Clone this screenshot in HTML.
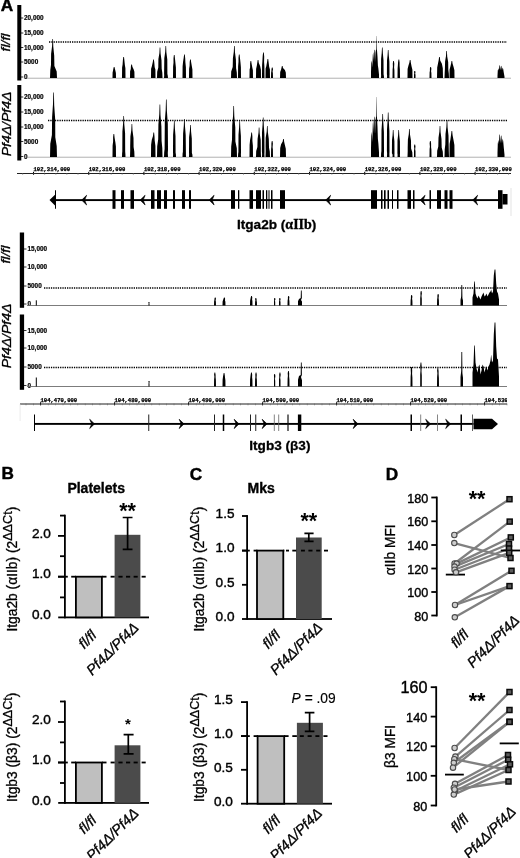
<!DOCTYPE html>
<html lang="en"><head><meta charset="utf-8"><title>Figure</title>
<style>html,body{margin:0;padding:0;background:#fff}body{width:520px;height:858px;overflow:hidden}svg{display:block}text{font-family:"Liberation Sans", Arial, Helvetica, sans-serif;fill:#000}.mono{font-family:"Liberation Mono", monospace;font-weight:bold;font-size:5.55px;stroke:#000;stroke-width:0.25px}.tk{font-size:6.4px;font-weight:bold;stroke:#000;stroke-width:0.2px}.ax{font-size:13.6px;stroke:#000;stroke-width:0.4px}.lab{font-size:13.8px;stroke:#000;stroke-width:0.3px}.it{font-style:italic;font-size:14.5px;stroke:#000;stroke-width:0.3px}.b{font-weight:bold}.pl{font-size:17.2px;stroke:#000;stroke-width:0.45px}.ti{font-size:14px;stroke:#000;stroke-width:0.35px}.gl{font-size:13.6px;stroke:#000;stroke-width:0.3px}.rl{font-size:14px;stroke:#000;stroke-width:0.35px}</style></head><body>
<svg width="520" height="858" viewBox="0 0 520 858">
<rect width="520" height="858" fill="#fff"/>
<defs><clipPath id="cl"><rect x="0" y="390" width="507" height="20"/></clipPath></defs>
<g id="panelA">
<text x="0.8" y="11" class="b pl">A</text>
<rect x="17.3" y="5" width="4" height="75.5" fill="#000"/>
<rect x="17.3" y="85" width="4" height="75.5" fill="#000"/>
<text class="it rl" transform="translate(10.2 42.5) rotate(-90) scale(1 0.86)" text-anchor="middle">fl/fl</text>
<text class="it rl" transform="translate(10.6 124) rotate(-90) scale(1 0.86)" text-anchor="middle">Pf4Δ/Pf4Δ</text>
<text class="tk" x="24" y="20.3">20,000</text>
<rect x="20.8" y="17.6" width="2.5" height="0.8" fill="#000"/>
<text class="tk" x="24" y="35.3">15,000</text>
<rect x="20.8" y="32.6" width="2.5" height="0.8" fill="#000"/>
<text class="tk" x="24" y="49.8">10,000</text>
<rect x="20.8" y="47.1" width="2.5" height="0.8" fill="#000"/>
<text class="tk" x="24" y="64.3">5000</text>
<rect x="20.8" y="61.6" width="2.5" height="0.8" fill="#000"/>
<text class="tk" x="24" y="79.3">0</text>
<rect x="20.8" y="76.6" width="2.5" height="0.8" fill="#000"/>
<text class="tk" x="24" y="99.3">20,000</text>
<rect x="20.8" y="96.6" width="2.5" height="0.8" fill="#000"/>
<text class="tk" x="24" y="114.3">15,000</text>
<rect x="20.8" y="111.6" width="2.5" height="0.8" fill="#000"/>
<text class="tk" x="24" y="129.3">10,000</text>
<rect x="20.8" y="126.6" width="2.5" height="0.8" fill="#000"/>
<text class="tk" x="24" y="143.8">5000</text>
<rect x="20.8" y="141.1" width="2.5" height="0.8" fill="#000"/>
<text class="tk" x="24" y="158.8">0</text>
<rect x="20.8" y="156.1" width="2.5" height="0.8" fill="#000"/>
<rect x="27" y="77.8" width="484" height="0.7" fill="#909090"/>
<rect x="27" y="156.8" width="484" height="0.7" fill="#909090"/>
<line x1="49" y1="42" x2="507" y2="42" stroke="#000" stroke-width="1.5" stroke-dasharray="1.3 1.0"/>
<line x1="48" y1="120.5" x2="507" y2="120.5" stroke="#000" stroke-width="1.5" stroke-dasharray="1.3 1.0"/>
<path d="M50.0 78.0 L50.3 70.0 L51.0 64.7 L51.1 53.8 L52.1 46.0 L52.4 39.0 L53.0 39.0 L53.3 46.8 L54.2 55.4 L54.4 66.1 L56.7 71.4 L57.0 78.0Z M112.5 78.0 L112.6 72.5 L113.1 70.3 L113.4 68.5 L113.8 67.0 L114.5 67.0 L114.9 68.8 L115.4 70.7 L115.9 72.9 L116.0 78.0Z M122.0 78.0 L122.1 67.5 L122.6 64.5 L122.9 59.9 L123.3 57.0 L124.0 57.0 L124.4 60.4 L124.9 65.3 L125.4 68.3 L125.5 78.0Z M130.0 78.0 L130.1 71.2 L130.8 69.1 L130.9 66.4 L131.3 64.5 L132.0 64.5 L132.4 66.7 L133.7 69.6 L134.4 71.8 L134.5 78.0Z M151.0 78.0 L151.1 68.8 L151.8 66.5 L152.8 62.1 L153.2 59.5 L153.9 59.5 L154.3 62.5 L154.7 67.3 L155.4 69.5 L155.5 78.0Z M157.0 78.0 L157.2 71.8 L158.3 67.6 L158.4 59.1 L159.4 53.0 L159.7 47.5 L160.3 47.5 L160.6 53.6 L161.5 60.3 L161.7 68.7 L162.3 72.8 L162.5 78.0Z M164.0 78.0 L164.2 75.3 L164.1 73.5 L164.3 58.2 L165.2 51.8 L165.5 46.0 L166.1 46.0 L166.4 52.4 L167.3 59.4 L167.4 74.0 L167.8 75.8 L168.0 78.0Z M173.0 78.0 L173.1 66.5 L173.5 62.8 L173.5 58.2 L173.9 55.0 L174.6 55.0 L175.0 58.7 L175.5 63.8 L175.9 67.4 L176.0 78.0Z M182.5 78.0 L182.6 66.2 L183.1 61.5 L183.7 57.8 L184.1 54.5 L184.8 54.5 L185.2 58.3 L185.4 62.4 L185.9 67.2 L186.0 78.0Z M189.0 78.0 L189.1 68.8 L189.6 65.7 L189.7 62.1 L190.1 59.5 L190.8 59.5 L191.2 62.5 L191.9 66.4 L192.4 69.5 L192.5 78.0Z M231.0 78.0 L231.2 71.5 L232.7 67.1 L232.9 58.2 L233.8 51.8 L234.1 46.0 L234.7 46.0 L235.0 52.4 L235.9 59.4 L236.1 68.2 L236.8 72.6 L237.0 78.0Z M238.0 78.0 L238.1 66.2 L238.5 61.7 L238.5 57.8 L238.9 54.5 L239.6 54.5 L240.0 58.3 L240.5 62.7 L240.9 67.2 L241.0 78.0Z M249.5 78.0 L249.6 69.5 L250.1 67.4 L250.1 63.4 L250.5 61.0 L251.2 61.0 L251.6 63.7 L252.4 68.0 L252.9 70.2 L253.0 78.0Z M256.0 78.0 L256.1 69.0 L256.9 65.2 L257.3 62.5 L257.7 60.0 L258.4 60.0 L258.8 62.9 L260.1 65.9 L260.9 69.7 L261.0 78.0Z M262.0 78.0 L262.1 65.2 L262.4 61.1 L262.7 56.1 L263.1 52.5 L263.8 52.5 L264.2 56.6 L264.1 62.1 L264.4 66.3 L264.5 78.0Z M265.5 78.0 L265.6 68.5 L266.3 66.2 L267.1 61.7 L267.5 59.0 L268.2 59.0 L268.6 62.0 L269.2 67.0 L269.9 69.3 L270.0 78.0Z M271.0 78.0 L271.1 72.8 L271.4 71.1 L271.5 69.0 L271.9 67.5 L272.6 67.5 L273.0 69.2 L272.6 71.5 L272.9 73.2 L273.0 78.0Z M280.0 78.0 L280.2 72.0 L281.1 69.6 L281.5 67.7 L281.9 66.0 L282.6 66.0 L283.0 67.9 L284.9 70.1 L285.8 72.5 L286.0 78.0Z M381.0 78.0 L381.1 75.4 L381.0 73.7 L381.1 59.1 L381.7 53.0 L382.0 47.5 L382.6 47.5 L382.9 53.6 L383.5 60.3 L383.6 74.2 L383.9 75.9 L384.0 78.0Z M387.0 78.0 L387.1 75.6 L386.9 74.1 L387.0 60.6 L387.6 55.0 L387.9 50.0 L388.5 50.0 L388.8 55.6 L389.4 61.8 L389.5 74.5 L389.4 76.0 L389.5 78.0Z M392.5 78.0 L392.6 69.5 L392.9 66.8 L392.8 63.4 L393.2 61.0 L393.9 61.0 L394.3 63.7 L394.1 67.4 L394.4 70.2 L394.5 78.0Z M397.5 78.0 L397.6 68.8 L397.9 65.1 L398.1 62.1 L398.5 59.5 L399.2 59.5 L399.6 62.5 L399.6 65.8 L399.9 69.5 L400.0 78.0Z M407.5 78.0 L407.6 69.0 L408.4 65.7 L409.4 62.5 L409.8 60.0 L410.5 60.0 L410.9 62.9 L411.6 66.4 L412.4 69.7 L412.5 78.0Z M414.0 78.0 L414.0 74.5 L414.3 73.4 L414.0 72.0 L414.4 71.0 L415.1 71.0 L415.5 72.1 L415.2 73.7 L415.5 74.8 L415.5 78.0Z M429.5 78.0 L429.6 72.5 L429.9 70.7 L429.9 68.5 L430.3 67.0 L431.0 67.0 L431.4 68.8 L431.1 71.2 L431.4 72.9 L431.5 78.0Z M437.0 78.0 L437.2 67.5 L438.1 62.9 L438.7 59.9 L439.1 57.0 L439.8 57.0 L440.2 60.4 L441.9 63.8 L442.8 68.3 L443.0 78.0Z M444.5 78.0 L444.7 72.5 L444.9 68.8 L445.1 61.3 L446.0 55.9 L446.3 51.0 L446.9 51.0 L447.2 56.4 L448.2 62.3 L448.3 69.7 L448.8 73.4 L449.0 78.0Z M449.5 78.0 L449.6 69.5 L450.4 66.4 L451.1 63.4 L451.5 61.0 L452.2 61.0 L452.6 63.7 L453.6 67.0 L454.4 70.2 L454.5 78.0Z M371.0 78.0 L371.0 71.7 L371.3 63.3 L371.9 60.4 L372.3 67.5 L372.8 54.9 L373.2 52.0 L373.7 61.2 L374.1 50.3 L374.6 49.4 L375.0 62.0 L375.5 52.8 L375.9 50.3 L376.3 49.4 L376.5 36.0 L376.7 36.0 L377.0 50.3 L377.5 57.0 L377.9 65.4 L378.4 68.8 L379.0 74.6 L379.0 78.0Z M497.5 78.0 L497.5 75.4 L497.8 70.2 L498.4 68.2 L498.9 70.8 L499.4 65.7 L499.9 65.0 L500.4 70.2 L500.9 66.3 L501.4 65.7 L502.0 70.2 L502.6 67.6 L503.2 68.9 L503.8 72.8 L504.5 76.7 L504.5 78.0Z" fill="#000"/>
<path d="M50.0 157.0 L50.3 143.8 L51.9 135.1 L52.1 117.0 L53.0 104.1 L53.3 92.5 L53.9 92.5 L54.2 105.4 L55.2 119.6 L55.3 137.3 L56.7 146.0 L57.0 157.0Z M112.5 157.0 L112.6 145.5 L113.1 141.5 L113.1 137.2 L113.5 134.0 L114.2 134.0 L114.6 137.7 L115.4 142.5 L115.9 146.4 L116.0 157.0Z M122.0 157.0 L122.1 153.6 L122.3 151.3 L122.4 131.6 L123.1 123.4 L123.4 116.0 L124.0 116.0 L124.3 124.2 L125.1 133.2 L125.2 151.8 L125.4 154.1 L125.5 157.0Z M130.0 157.0 L130.2 150.3 L130.2 145.8 L130.4 136.5 L131.3 129.9 L131.6 124.0 L132.2 124.0 L132.5 130.6 L133.5 137.9 L133.6 146.9 L134.3 151.4 L134.5 157.0Z M151.0 157.0 L151.1 144.8 L151.8 139.7 L153.0 135.9 L153.4 132.5 L154.1 132.5 L154.5 136.4 L154.7 140.6 L155.4 145.7 L155.5 157.0Z M157.0 157.0 L157.2 146.3 L158.2 139.2 L158.4 124.5 L159.3 114.0 L159.6 104.5 L160.2 104.5 L160.5 115.0 L161.4 126.5 L161.6 140.9 L162.3 148.1 L162.5 157.0Z M164.0 157.0 L164.2 152.2 L164.6 148.9 L164.8 121.3 L165.7 109.8 L166.0 99.5 L166.6 99.5 L166.9 111.0 L167.8 123.7 L168.0 149.8 L167.8 153.0 L168.0 157.0Z M173.0 157.0 L173.1 154.0 L173.0 152.0 L173.1 134.7 L173.7 127.5 L174.0 121.0 L174.6 121.0 L174.9 128.2 L175.5 136.1 L175.6 152.5 L175.9 154.5 L176.0 157.0Z M182.5 157.0 L182.6 153.8 L182.9 151.7 L183.1 133.4 L183.8 125.8 L184.1 119.0 L184.7 119.0 L185.0 126.6 L185.7 135.0 L185.9 152.2 L185.9 154.3 L186.0 157.0Z M189.0 157.0 L189.1 154.3 L189.0 152.5 L189.1 137.2 L189.9 130.8 L190.2 125.0 L190.8 125.0 L191.1 131.4 L191.8 138.4 L191.9 153.0 L192.4 154.8 L192.5 157.0Z M231.0 157.0 L231.2 146.6 L232.0 139.7 L232.2 125.4 L233.1 115.2 L233.4 106.0 L234.0 106.0 L234.3 116.2 L235.3 127.4 L235.4 141.4 L236.8 148.3 L237.0 157.0Z M238.0 157.0 L238.1 154.0 L238.4 152.0 L238.5 134.7 L239.1 127.5 L239.4 121.0 L240.0 121.0 L240.3 128.2 L240.9 136.1 L241.0 152.5 L240.9 154.5 L241.0 157.0Z M249.5 157.0 L249.6 144.8 L250.1 139.7 L250.9 135.9 L251.3 132.5 L252.0 132.5 L252.4 136.4 L252.4 140.7 L252.9 145.7 L253.0 157.0Z M256.0 157.0 L256.2 151.0 L257.4 147.0 L257.6 138.7 L258.5 132.8 L258.8 127.5 L259.4 127.5 L259.7 133.4 L260.7 139.9 L260.8 148.0 L260.8 152.0 L261.0 157.0Z M262.0 157.0 L262.1 153.7 L261.9 151.5 L262.0 132.5 L262.6 124.6 L262.9 117.5 L263.5 117.5 L263.8 125.4 L264.4 134.1 L264.5 152.0 L264.4 154.2 L264.5 157.0Z M265.5 157.0 L265.7 150.7 L265.6 146.5 L265.7 137.8 L266.7 131.6 L267.0 126.0 L267.6 126.0 L267.9 132.2 L268.8 139.0 L269.0 147.5 L269.8 151.7 L270.0 157.0Z M271.0 157.0 L271.1 149.0 L271.4 146.7 L271.4 143.2 L271.8 141.0 L272.5 141.0 L272.9 143.6 L272.6 147.3 L272.9 149.6 L273.0 157.0Z M280.0 157.0 L280.2 148.0 L281.1 144.2 L282.7 141.5 L283.1 139.0 L283.8 139.0 L284.2 141.9 L284.9 144.9 L285.8 148.7 L286.0 157.0Z M381.0 157.0 L381.1 153.4 L381.4 151.0 L381.5 130.3 L382.1 121.7 L382.4 114.0 L383.0 114.0 L383.3 122.6 L383.9 132.1 L384.0 151.6 L383.9 154.0 L384.0 157.0Z M387.0 157.0 L387.1 153.3 L386.9 150.8 L387.0 129.4 L387.6 120.5 L387.9 112.5 L388.5 112.5 L388.8 121.4 L389.4 131.2 L389.5 151.4 L389.4 153.9 L389.5 157.0Z M392.5 157.0 L392.6 154.7 L391.9 153.2 L392.0 140.3 L392.6 134.9 L392.9 130.0 L393.5 130.0 L393.8 135.4 L394.4 141.3 L394.5 153.6 L394.4 155.1 L394.5 157.0Z M397.5 157.0 L397.6 154.7 L397.4 153.2 L397.5 140.3 L398.1 134.9 L398.4 130.0 L399.0 130.0 L399.3 135.4 L399.9 141.3 L400.0 153.6 L399.9 155.1 L400.0 157.0Z M407.5 157.0 L407.7 151.3 L407.7 147.5 L407.9 139.6 L408.8 134.0 L409.1 129.0 L409.7 129.0 L410.0 134.6 L411.0 140.8 L411.1 148.4 L412.3 152.2 L412.5 157.0Z M414.0 157.0 L414.0 150.8 L414.3 148.7 L414.0 146.2 L414.4 144.5 L415.1 144.5 L415.5 146.5 L415.2 149.2 L415.5 151.2 L415.5 157.0Z M429.5 157.0 L429.6 149.0 L429.9 146.7 L429.6 143.2 L430.0 141.0 L430.7 141.0 L431.1 143.6 L431.1 147.3 L431.4 149.6 L431.5 157.0Z M437.0 157.0 L437.2 150.7 L438.3 146.5 L438.5 137.8 L439.4 131.6 L439.7 126.0 L440.3 126.0 L440.6 132.2 L441.5 139.0 L441.7 147.5 L442.8 151.7 L443.0 157.0Z M444.5 157.0 L444.7 149.5 L445.3 144.4 L445.5 134.1 L446.4 126.7 L446.7 120.0 L447.3 120.0 L447.6 127.4 L448.5 135.5 L448.7 145.7 L448.8 150.7 L449.0 157.0Z M449.5 157.0 L449.6 144.0 L450.4 139.4 L451.1 134.6 L451.5 131.0 L452.2 131.0 L452.6 135.2 L453.6 140.5 L454.4 145.0 L454.5 157.0Z M371.0 157.0 L371.0 148.0 L371.3 136.0 L371.9 131.8 L372.3 142.0 L372.8 124.0 L373.2 119.8 L373.7 133.0 L374.1 117.4 L374.6 116.2 L375.0 134.2 L375.5 121.0 L375.9 117.4 L376.3 116.2 L376.5 97.0 L376.7 97.0 L377.0 117.4 L377.5 127.0 L377.9 139.0 L378.4 143.8 L379.0 152.2 L379.0 157.0Z M497.5 157.0 L497.5 152.4 L497.8 143.2 L498.4 139.8 L498.9 144.3 L499.4 135.2 L499.9 134.0 L500.4 143.2 L500.9 136.3 L501.4 135.2 L502.0 143.2 L502.6 138.6 L503.2 140.9 L503.8 147.8 L504.5 154.7 L504.5 157.0Z" fill="#000"/>
<rect x="17" y="173" width="494" height="1" fill="#222"/>
<rect x="33.0" y="171.8" width="1" height="3" fill="#000"/>
<text class="mono" x="33.5" y="171">102,314,000</text>
<rect x="88.2" y="171.8" width="1" height="3" fill="#000"/>
<text class="mono" x="88.7" y="171">102,316,000</text>
<rect x="143.4" y="171.8" width="1" height="3" fill="#000"/>
<text class="mono" x="143.9" y="171">102,318,000</text>
<rect x="198.6" y="171.8" width="1" height="3" fill="#000"/>
<text class="mono" x="199.1" y="171">102,320,000</text>
<rect x="253.8" y="171.8" width="1" height="3" fill="#000"/>
<text class="mono" x="254.3" y="171">102,322,000</text>
<rect x="309.0" y="171.8" width="1" height="3" fill="#000"/>
<text class="mono" x="309.5" y="171">102,324,000</text>
<rect x="364.2" y="171.8" width="1" height="3" fill="#000"/>
<text class="mono" x="364.7" y="171">102,326,000</text>
<rect x="419.4" y="171.8" width="1" height="3" fill="#000"/>
<text class="mono" x="419.9" y="171">102,328,000</text>
<rect x="474.6" y="171.8" width="1" height="3" fill="#000"/>
<text class="mono" x="475.1" y="171">102,330,000</text>
<rect x="22.5" y="173" width="0.6" height="1.8" fill="#666"/>
<rect x="33.5" y="173" width="0.6" height="1.8" fill="#666"/>
<rect x="44.5" y="173" width="0.6" height="1.8" fill="#666"/>
<rect x="55.6" y="173" width="0.6" height="1.8" fill="#666"/>
<rect x="66.6" y="173" width="0.6" height="1.8" fill="#666"/>
<rect x="77.7" y="173" width="0.6" height="1.8" fill="#666"/>
<rect x="88.7" y="173" width="0.6" height="1.8" fill="#666"/>
<rect x="99.7" y="173" width="0.6" height="1.8" fill="#666"/>
<rect x="110.8" y="173" width="0.6" height="1.8" fill="#666"/>
<rect x="121.8" y="173" width="0.6" height="1.8" fill="#666"/>
<rect x="132.9" y="173" width="0.6" height="1.8" fill="#666"/>
<rect x="143.9" y="173" width="0.6" height="1.8" fill="#666"/>
<rect x="154.9" y="173" width="0.6" height="1.8" fill="#666"/>
<rect x="166.0" y="173" width="0.6" height="1.8" fill="#666"/>
<rect x="177.0" y="173" width="0.6" height="1.8" fill="#666"/>
<rect x="188.1" y="173" width="0.6" height="1.8" fill="#666"/>
<rect x="199.1" y="173" width="0.6" height="1.8" fill="#666"/>
<rect x="210.1" y="173" width="0.6" height="1.8" fill="#666"/>
<rect x="221.2" y="173" width="0.6" height="1.8" fill="#666"/>
<rect x="232.2" y="173" width="0.6" height="1.8" fill="#666"/>
<rect x="243.3" y="173" width="0.6" height="1.8" fill="#666"/>
<rect x="254.3" y="173" width="0.6" height="1.8" fill="#666"/>
<rect x="265.3" y="173" width="0.6" height="1.8" fill="#666"/>
<rect x="276.4" y="173" width="0.6" height="1.8" fill="#666"/>
<rect x="287.4" y="173" width="0.6" height="1.8" fill="#666"/>
<rect x="298.5" y="173" width="0.6" height="1.8" fill="#666"/>
<rect x="309.5" y="173" width="0.6" height="1.8" fill="#666"/>
<rect x="320.5" y="173" width="0.6" height="1.8" fill="#666"/>
<rect x="331.6" y="173" width="0.6" height="1.8" fill="#666"/>
<rect x="342.6" y="173" width="0.6" height="1.8" fill="#666"/>
<rect x="353.7" y="173" width="0.6" height="1.8" fill="#666"/>
<rect x="364.7" y="173" width="0.6" height="1.8" fill="#666"/>
<rect x="375.7" y="173" width="0.6" height="1.8" fill="#666"/>
<rect x="386.8" y="173" width="0.6" height="1.8" fill="#666"/>
<rect x="397.8" y="173" width="0.6" height="1.8" fill="#666"/>
<rect x="408.9" y="173" width="0.6" height="1.8" fill="#666"/>
<rect x="419.9" y="173" width="0.6" height="1.8" fill="#666"/>
<rect x="430.9" y="173" width="0.6" height="1.8" fill="#666"/>
<rect x="442.0" y="173" width="0.6" height="1.8" fill="#666"/>
<rect x="453.0" y="173" width="0.6" height="1.8" fill="#666"/>
<rect x="464.1" y="173" width="0.6" height="1.8" fill="#666"/>
<rect x="475.1" y="173" width="0.6" height="1.8" fill="#666"/>
<rect x="486.1" y="173" width="0.6" height="1.8" fill="#666"/>
<rect x="497.2" y="173" width="0.6" height="1.8" fill="#666"/>
<rect x="508.2" y="173" width="0.6" height="1.8" fill="#666"/>
<rect x="52" y="199.15" width="448" height="1.9" fill="#000"/>
<path d="M49.5 200.1 L55 194.8 L55 190.2 L56 190.2 L56 208.8 L55 208.8 L55 205.4Z" fill="#000"/>
<rect x="112.5" y="190.2" width="3.0" height="18.6" fill="#000"/>
<rect x="121.0" y="190.2" width="3.0" height="18.6" fill="#000"/>
<rect x="130.5" y="190.2" width="3.5" height="18.6" fill="#000"/>
<rect x="151.0" y="190.2" width="3.5" height="18.6" fill="#000"/>
<rect x="157.0" y="190.2" width="4.0" height="18.6" fill="#000"/>
<rect x="164.0" y="190.2" width="3.0" height="18.6" fill="#000"/>
<rect x="173.0" y="190.2" width="2.0" height="18.6" fill="#000"/>
<rect x="182.0" y="190.2" width="3.0" height="18.6" fill="#000"/>
<rect x="189.0" y="190.2" width="2.0" height="18.6" fill="#000"/>
<rect x="231.0" y="190.2" width="4.0" height="18.6" fill="#000"/>
<rect x="238.0" y="190.2" width="1.3" height="18.6" fill="#000"/>
<rect x="249.5" y="190.2" width="3.5" height="18.6" fill="#000"/>
<rect x="256.0" y="190.2" width="5.0" height="18.6" fill="#000"/>
<rect x="262.5" y="190.2" width="1.5" height="18.6" fill="#000"/>
<rect x="266.0" y="190.2" width="1.3" height="18.6" fill="#000"/>
<rect x="268.5" y="190.2" width="1.0" height="18.6" fill="#000"/>
<rect x="271.0" y="190.2" width="1.5" height="18.6" fill="#000"/>
<rect x="280.0" y="190.2" width="5.0" height="18.6" fill="#000"/>
<rect x="371.0" y="190.2" width="6.0" height="18.6" fill="#000"/>
<rect x="381.0" y="190.2" width="1.5" height="18.6" fill="#000"/>
<rect x="384.0" y="190.2" width="1.6" height="18.6" fill="#000"/>
<rect x="387.5" y="190.2" width="1.5" height="18.6" fill="#000"/>
<rect x="392.0" y="190.2" width="1.0" height="18.6" fill="#000"/>
<rect x="397.0" y="190.2" width="1.5" height="18.6" fill="#000"/>
<rect x="407.5" y="190.2" width="3.5" height="18.6" fill="#000"/>
<rect x="413.0" y="190.2" width="1.5" height="18.6" fill="#000"/>
<rect x="429.5" y="190.2" width="1.5" height="18.6" fill="#000"/>
<rect x="437.0" y="190.2" width="4.0" height="18.6" fill="#000"/>
<rect x="444.5" y="190.2" width="3.0" height="18.6" fill="#000"/>
<rect x="449.5" y="190.2" width="3.0" height="18.6" fill="#000"/>
<rect x="498.0" y="190.2" width="4.5" height="18.6" fill="#000"/>
<rect x="502.5" y="194" width="5" height="10.5" fill="#000"/>
<path d="M81.7 200.1 L86.6 195.3 L84.6 200.1 L86.6 204.9Z" fill="#000" stroke="#000" stroke-width="0.7" stroke-linejoin="miter"/>
<path d="M140.2 200.1 L145.1 195.3 L143.1 200.1 L145.1 204.9Z" fill="#000" stroke="#000" stroke-width="0.7" stroke-linejoin="miter"/>
<path d="M209.2 200.1 L214.1 195.3 L212.1 200.1 L214.1 204.9Z" fill="#000" stroke="#000" stroke-width="0.7" stroke-linejoin="miter"/>
<path d="M325.7 200.1 L330.6 195.3 L328.6 200.1 L330.6 204.9Z" fill="#000" stroke="#000" stroke-width="0.7" stroke-linejoin="miter"/>
<path d="M420.2 200.1 L425.1 195.3 L423.1 200.1 L425.1 204.9Z" fill="#000" stroke="#000" stroke-width="0.7" stroke-linejoin="miter"/>
<path d="M472.7 200.1 L477.6 195.3 L475.6 200.1 L477.6 204.9Z" fill="#000" stroke="#000" stroke-width="0.7" stroke-linejoin="miter"/>
<rect x="510.7" y="188" width="0.6" height="28" fill="#d0d0d0"/>
<text x="237" y="229.4" class="b gl">Itga2b (<tspan font-family='&quot;Liberation Serif&quot;, serif' font-size="14">αIIb</tspan>)</text>
<rect x="19.8" y="232.5" width="4.3" height="75.3" fill="#000"/>
<rect x="19.8" y="314.5" width="4.3" height="75.3" fill="#000"/>
<text class="it rl" transform="translate(10.2 254.6) rotate(-90) scale(1 0.86)" text-anchor="middle">fl/fl</text>
<text class="it rl" transform="translate(10.6 336) rotate(-90) scale(1 0.86)" text-anchor="middle">Pf4Δ/Pf4Δ</text>
<text class="tk" x="27.5" y="251.3">15,000</text>
<rect x="24" y="248.6" width="2.5" height="0.8" fill="#000"/>
<text class="tk" x="27.5" y="269.3">10,000</text>
<rect x="24" y="266.6" width="2.5" height="0.8" fill="#000"/>
<text class="tk" x="27.5" y="288.3">5000</text>
<rect x="24" y="285.6" width="2.5" height="0.8" fill="#000"/>
<text class="tk" x="27.5" y="306.3">0</text>
<rect x="24" y="303.6" width="2.5" height="0.8" fill="#000"/>
<text class="tk" x="27.5" y="332.8">15,000</text>
<rect x="24" y="330.1" width="2.5" height="0.8" fill="#000"/>
<text class="tk" x="27.5" y="350.3">10,000</text>
<rect x="24" y="347.6" width="2.5" height="0.8" fill="#000"/>
<text class="tk" x="27.5" y="369.3">5000</text>
<rect x="24" y="366.6" width="2.5" height="0.8" fill="#000"/>
<text class="tk" x="27.5" y="387.8">0</text>
<rect x="24" y="385.1" width="2.5" height="0.8" fill="#000"/>
<rect x="27" y="305.0" width="480" height="0.9" fill="#6e6e6e"/>
<rect x="27" y="386.1" width="480" height="0.9" fill="#6e6e6e"/>
<rect x="35.8" y="300.3" width="1" height="5.2" fill="#000"/>
<rect x="35.8" y="377.5" width="1" height="9" fill="#000"/>
<line x1="44" y1="288" x2="507" y2="288" stroke="#000" stroke-width="1.5" stroke-dasharray="1.3 1.0"/>
<line x1="44" y1="367.5" x2="507" y2="367.5" stroke="#000" stroke-width="1.5" stroke-dasharray="1.3 1.0"/>
<path d="M148.5 305.5 L148.5 303.8 L148.7 303.0 L148.2 302.5 L148.6 302.0 L149.3 302.0 L149.7 302.6 L149.3 303.1 L149.5 303.9 L149.5 305.5Z M214.0 305.5 L214.1 301.5 L214.4 299.9 L214.5 298.6 L214.9 297.5 L215.6 297.5 L216.0 298.8 L215.6 300.2 L215.9 301.8 L216.0 305.5Z M222.5 305.5 L222.6 301.5 L223.0 300.2 L223.6 298.6 L224.0 297.5 L224.7 297.5 L225.1 298.8 L225.0 300.5 L225.4 301.8 L225.5 305.5Z M250.0 305.5 L250.1 300.8 L250.4 299.2 L250.8 297.3 L251.2 296.0 L251.9 296.0 L252.3 297.5 L252.1 299.6 L252.4 301.1 L252.5 305.5Z M255.0 305.5 L255.1 301.8 L255.4 300.4 L255.1 299.1 L255.5 298.0 L256.2 298.0 L256.6 299.2 L256.6 300.7 L256.9 302.1 L257.0 305.5Z M274.0 305.5 L274.0 301.8 L274.2 300.2 L274.0 299.1 L274.4 298.0 L275.1 298.0 L275.5 299.2 L275.0 300.5 L275.2 302.1 L275.2 305.5Z M279.0 305.5 L279.0 301.8 L279.3 300.4 L279.1 299.1 L279.5 298.0 L280.2 298.0 L280.6 299.2 L280.2 300.7 L280.5 302.1 L280.5 305.5Z M287.5 305.5 L287.6 300.8 L287.9 298.7 L287.9 297.3 L288.3 296.0 L289.0 296.0 L289.4 297.5 L289.1 299.1 L289.4 301.1 L289.5 305.5Z M298.0 305.5 L298.0 301.3 L299.0 299.0 L300.7 298.0 L300.9 290.5 L301.7 290.5 L301.9 298.0 L301.0 300.0 L302.0 301.6 L302.0 305.5Z M410.5 305.5 L410.6 300.2 L410.9 298.3 L410.9 296.5 L411.3 295.0 L412.0 295.0 L412.4 296.7 L412.1 298.8 L412.4 300.7 L412.5 305.5Z M420.2 305.5 L420.2 298.2 L420.5 295.5 L420.4 293.0 L420.8 291.0 L421.5 291.0 L421.9 293.3 L421.5 296.1 L421.8 298.8 L421.8 305.5Z M437.0 305.5 L437.1 299.8 L437.4 297.5 L437.4 295.6 L437.8 294.0 L438.5 294.0 L438.9 295.8 L438.6 298.0 L438.9 300.2 L439.0 305.5Z M460.5 305.5 L460.5 300.0 L461.1 297.0 L461.2 296.0 L461.4 285.0 L462.2 285.0 L462.4 296.0 L462.4 298.0 L463.0 300.4 L463.0 305.5Z M472.5 305.5 L472.5 297.5 L473.5 293.5 L474.2 281.5 L474.8 281.5 L475.5 293.5 L476.5 296.5 L477.5 298.5 L478.5 295.5 L479.5 297.5 L480.5 299.5 L481.5 296.5 L482.5 294.5 L483.5 292.5 L484.5 296.5 L485.5 295.5 L486.5 293.5 L487.5 296.5 L488.5 294.5 L489.5 292.5 L490.5 291.5 L491.2 289.5 L492.0 293.5 L493.0 291.5 L493.8 275.5 L494.6 269.5 L495.4 269.5 L496.2 283.5 L497.0 291.5 L498.0 293.5 L499.0 299.5 L499.0 305.5Z" fill="#000"/>
<path d="M148.5 386.5 L148.5 383.8 L148.7 382.6 L148.3 381.8 L148.7 381.0 L149.4 381.0 L149.8 381.9 L149.3 382.8 L149.5 384.0 L149.5 386.5Z M214.0 386.5 L214.1 379.5 L214.4 376.7 L214.1 374.5 L214.5 372.5 L215.2 372.5 L215.6 374.7 L215.6 377.2 L215.9 380.1 L216.0 386.5Z M222.5 386.5 L222.6 379.8 L223.0 376.8 L223.3 374.9 L223.7 373.0 L224.4 373.0 L224.8 375.2 L225.0 377.4 L225.4 380.3 L225.5 386.5Z M250.0 386.5 L250.1 379.5 L250.4 376.8 L250.7 374.5 L251.1 372.5 L251.8 372.5 L252.2 374.7 L252.1 377.3 L252.4 380.1 L252.5 386.5Z M255.0 386.5 L255.1 379.5 L255.4 376.9 L255.3 374.5 L255.7 372.5 L256.4 372.5 L256.8 374.7 L256.6 377.5 L256.9 380.1 L257.0 386.5Z M274.0 386.5 L274.0 380.2 L274.2 378.4 L273.9 375.8 L274.3 374.0 L275.0 374.0 L275.4 376.0 L275.0 378.9 L275.2 380.8 L275.2 386.5Z M279.0 386.5 L279.0 379.5 L279.3 377.2 L279.2 374.5 L279.6 372.5 L280.3 372.5 L280.7 374.7 L280.2 377.8 L280.5 380.1 L280.5 386.5Z M287.5 386.5 L287.6 378.8 L287.9 375.7 L287.7 373.2 L288.1 371.0 L288.8 371.0 L289.2 373.5 L289.1 376.3 L289.4 379.4 L289.5 386.5Z M298.0 386.5 L298.0 379.7 L299.0 376.0 L300.7 375.0 L300.9 362.5 L301.7 362.5 L301.9 375.0 L301.0 377.0 L302.0 380.2 L302.0 386.5Z M410.5 386.5 L410.6 376.8 L410.9 373.2 L410.7 369.7 L411.1 367.0 L411.8 367.0 L412.2 370.1 L412.1 374.0 L412.4 377.5 L412.5 386.5Z M420.2 386.5 L420.2 374.5 L420.5 370.5 L420.2 365.9 L420.6 362.5 L421.3 362.5 L421.7 366.3 L421.5 371.4 L421.8 375.5 L421.8 386.5Z M437.0 386.5 L437.1 377.2 L437.4 373.3 L437.1 370.6 L437.5 368.0 L438.2 368.0 L438.6 371.0 L438.6 374.0 L438.9 378.0 L439.0 386.5Z M460.5 386.5 L460.5 377.1 L461.1 372.0 L461.2 371.0 L461.4 352.0 L462.2 352.0 L462.4 371.0 L462.4 373.0 L463.0 377.8 L463.0 386.5Z M472.5 386.5 L472.5 372.5 L473.5 364.5 L474.2 345.5 L474.8 345.5 L475.5 362.5 L476.5 368.5 L477.5 372.5 L478.5 366.5 L479.5 364.5 L480.5 374.5 L481.5 370.5 L482.5 364.5 L483.5 366.5 L484.5 372.5 L485.5 368.5 L486.5 366.5 L487.5 370.5 L488.5 366.5 L489.5 364.5 L490.5 360.5 L491.2 354.5 L492.0 362.5 L493.0 360.5 L493.8 334.5 L494.6 322.5 L495.4 322.5 L496.2 346.5 L497.0 358.5 L498.0 359.5 L499.0 376.5 L499.0 386.5Z" fill="#000"/>
<rect x="20" y="403.5" width="487" height="1" fill="#222"/>
<rect x="19.8" y="404" width="0.5" height="17" fill="#d8d8d8"/>
<rect x="40.0" y="402.3" width="1" height="3" fill="#000"/>
<text class="mono" x="40.5" y="401.5">104,470,000</text>
<rect x="114.0" y="402.3" width="1" height="3" fill="#000"/>
<text class="mono" x="114.5" y="401.5">104,480,000</text>
<rect x="188.0" y="402.3" width="1" height="3" fill="#000"/>
<text class="mono" x="188.5" y="401.5">104,490,000</text>
<rect x="262.0" y="402.3" width="1" height="3" fill="#000"/>
<text class="mono" x="262.5" y="401.5">104,500,000</text>
<rect x="336.0" y="402.3" width="1" height="3" fill="#000"/>
<text class="mono" x="336.5" y="401.5">104,510,000</text>
<rect x="410.0" y="402.3" width="1" height="3" fill="#000"/>
<text class="mono" x="410.5" y="401.5">104,520,000</text>
<rect x="484.0" y="402.3" width="1" height="3" fill="#000"/>
<text class="mono" x="484.5" y="401.5" clip-path="url(#cl)">104,530,000</text>
<rect x="25.7" y="403.5" width="0.6" height="1.8" fill="#666"/>
<rect x="33.1" y="403.5" width="0.6" height="1.8" fill="#666"/>
<rect x="40.5" y="403.5" width="0.6" height="1.8" fill="#666"/>
<rect x="47.9" y="403.5" width="0.6" height="1.8" fill="#666"/>
<rect x="55.3" y="403.5" width="0.6" height="1.8" fill="#666"/>
<rect x="62.7" y="403.5" width="0.6" height="1.8" fill="#666"/>
<rect x="70.1" y="403.5" width="0.6" height="1.8" fill="#666"/>
<rect x="77.5" y="403.5" width="0.6" height="1.8" fill="#666"/>
<rect x="84.9" y="403.5" width="0.6" height="1.8" fill="#666"/>
<rect x="92.3" y="403.5" width="0.6" height="1.8" fill="#666"/>
<rect x="99.7" y="403.5" width="0.6" height="1.8" fill="#666"/>
<rect x="107.1" y="403.5" width="0.6" height="1.8" fill="#666"/>
<rect x="114.5" y="403.5" width="0.6" height="1.8" fill="#666"/>
<rect x="121.9" y="403.5" width="0.6" height="1.8" fill="#666"/>
<rect x="129.3" y="403.5" width="0.6" height="1.8" fill="#666"/>
<rect x="136.7" y="403.5" width="0.6" height="1.8" fill="#666"/>
<rect x="144.1" y="403.5" width="0.6" height="1.8" fill="#666"/>
<rect x="151.5" y="403.5" width="0.6" height="1.8" fill="#666"/>
<rect x="158.9" y="403.5" width="0.6" height="1.8" fill="#666"/>
<rect x="166.3" y="403.5" width="0.6" height="1.8" fill="#666"/>
<rect x="173.7" y="403.5" width="0.6" height="1.8" fill="#666"/>
<rect x="181.1" y="403.5" width="0.6" height="1.8" fill="#666"/>
<rect x="188.5" y="403.5" width="0.6" height="1.8" fill="#666"/>
<rect x="195.9" y="403.5" width="0.6" height="1.8" fill="#666"/>
<rect x="203.3" y="403.5" width="0.6" height="1.8" fill="#666"/>
<rect x="210.7" y="403.5" width="0.6" height="1.8" fill="#666"/>
<rect x="218.1" y="403.5" width="0.6" height="1.8" fill="#666"/>
<rect x="225.5" y="403.5" width="0.6" height="1.8" fill="#666"/>
<rect x="232.9" y="403.5" width="0.6" height="1.8" fill="#666"/>
<rect x="240.3" y="403.5" width="0.6" height="1.8" fill="#666"/>
<rect x="247.7" y="403.5" width="0.6" height="1.8" fill="#666"/>
<rect x="255.1" y="403.5" width="0.6" height="1.8" fill="#666"/>
<rect x="262.5" y="403.5" width="0.6" height="1.8" fill="#666"/>
<rect x="269.9" y="403.5" width="0.6" height="1.8" fill="#666"/>
<rect x="277.3" y="403.5" width="0.6" height="1.8" fill="#666"/>
<rect x="284.7" y="403.5" width="0.6" height="1.8" fill="#666"/>
<rect x="292.1" y="403.5" width="0.6" height="1.8" fill="#666"/>
<rect x="299.5" y="403.5" width="0.6" height="1.8" fill="#666"/>
<rect x="306.9" y="403.5" width="0.6" height="1.8" fill="#666"/>
<rect x="314.3" y="403.5" width="0.6" height="1.8" fill="#666"/>
<rect x="321.7" y="403.5" width="0.6" height="1.8" fill="#666"/>
<rect x="329.1" y="403.5" width="0.6" height="1.8" fill="#666"/>
<rect x="336.5" y="403.5" width="0.6" height="1.8" fill="#666"/>
<rect x="343.9" y="403.5" width="0.6" height="1.8" fill="#666"/>
<rect x="351.3" y="403.5" width="0.6" height="1.8" fill="#666"/>
<rect x="358.7" y="403.5" width="0.6" height="1.8" fill="#666"/>
<rect x="366.1" y="403.5" width="0.6" height="1.8" fill="#666"/>
<rect x="373.5" y="403.5" width="0.6" height="1.8" fill="#666"/>
<rect x="380.9" y="403.5" width="0.6" height="1.8" fill="#666"/>
<rect x="388.3" y="403.5" width="0.6" height="1.8" fill="#666"/>
<rect x="395.7" y="403.5" width="0.6" height="1.8" fill="#666"/>
<rect x="403.1" y="403.5" width="0.6" height="1.8" fill="#666"/>
<rect x="410.5" y="403.5" width="0.6" height="1.8" fill="#666"/>
<rect x="417.9" y="403.5" width="0.6" height="1.8" fill="#666"/>
<rect x="425.3" y="403.5" width="0.6" height="1.8" fill="#666"/>
<rect x="432.7" y="403.5" width="0.6" height="1.8" fill="#666"/>
<rect x="440.1" y="403.5" width="0.6" height="1.8" fill="#666"/>
<rect x="447.5" y="403.5" width="0.6" height="1.8" fill="#666"/>
<rect x="454.9" y="403.5" width="0.6" height="1.8" fill="#666"/>
<rect x="462.3" y="403.5" width="0.6" height="1.8" fill="#666"/>
<rect x="469.7" y="403.5" width="0.6" height="1.8" fill="#666"/>
<rect x="477.1" y="403.5" width="0.6" height="1.8" fill="#666"/>
<rect x="484.5" y="403.5" width="0.6" height="1.8" fill="#666"/>
<rect x="491.9" y="403.5" width="0.6" height="1.8" fill="#666"/>
<rect x="499.3" y="403.5" width="0.6" height="1.8" fill="#666"/>
<rect x="506.7" y="403.5" width="0.6" height="1.8" fill="#666"/>
<rect x="34.5" y="422.95" width="439" height="1.9" fill="#000"/>
<rect x="34" y="414.5" width="1" height="16.5" fill="#000"/>
<rect x="148.25" y="414.5" width="1.0" height="16.5" fill="#222"/>
<rect x="214.00" y="414.5" width="1.0" height="16.5" fill="#222"/>
<rect x="222.75" y="414.5" width="1.5" height="16.5" fill="#000"/>
<rect x="250.00" y="414.5" width="1.0" height="16.5" fill="#222"/>
<rect x="255.25" y="414.5" width="1.0" height="16.5" fill="#222"/>
<rect x="273.85" y="414.5" width="0.8" height="16.5" fill="#666"/>
<rect x="278.35" y="414.5" width="0.8" height="16.5" fill="#666"/>
<rect x="287.40" y="414.5" width="1.2" height="16.5" fill="#111"/>
<rect x="297.90" y="414.5" width="3.4" height="16.5" fill="#000"/>
<rect x="410.50" y="414.5" width="1.5" height="16.5" fill="#000"/>
<rect x="420.35" y="414.5" width="0.8" height="16.5" fill="#666"/>
<rect x="437.10" y="414.5" width="0.8" height="16.5" fill="#666"/>
<rect x="460.50" y="414.5" width="1.5" height="16.5" fill="#000"/>
<rect x="472.10" y="414.5" width="0.8" height="16.5" fill="#333"/>
<path d="M473.5 418.7 L492 418.7 L498 424 L492 429.3 L473.5 429.3Z" fill="#000"/>
<path d="M94.5 423.9 L89.7 419.3 L91.8 423.9 L89.7 428.5Z" fill="#000" stroke="#000" stroke-width="0.7"/>
<path d="M184.0 423.9 L179.2 419.3 L181.3 423.9 L179.2 428.5Z" fill="#000" stroke="#000" stroke-width="0.7"/>
<path d="M239.0 423.9 L234.2 419.3 L236.3 423.9 L234.2 428.5Z" fill="#000" stroke="#000" stroke-width="0.7"/>
<path d="M267.0 423.9 L262.2 419.3 L264.3 423.9 L262.2 428.5Z" fill="#000" stroke="#000" stroke-width="0.7"/>
<path d="M358.0 423.9 L353.2 419.3 L355.3 423.9 L353.2 428.5Z" fill="#000" stroke="#000" stroke-width="0.7"/>
<path d="M430.5 423.9 L425.7 419.3 L427.8 423.9 L425.7 428.5Z" fill="#000" stroke="#000" stroke-width="0.7"/>
<path d="M450.5 423.9 L445.7 419.3 L447.8 423.9 L445.7 428.5Z" fill="#000" stroke="#000" stroke-width="0.7"/>
<text x="249.3" y="449.6" class="b gl">Itgb3 (β3)</text>
</g>
<g id="panelB">
<text x="1.6" y="479.4" class="b pl">B</text>
<text x="96.2" y="493" class="b ti" text-anchor="middle">Platelets</text>
<rect x="64.00" y="514.70" width="1.8" height="103.60" fill="#000"/>
<rect x="58.20" y="616.50" width="90.80" height="1.8" fill="#000"/>
<text class="ax" x="50.9" y="619.0" text-anchor="end">0.0</text>
<rect x="60.00" y="596.50" width="4.90" height="1.8" fill="#000"/>
<rect x="58.00" y="575.80" width="6.90" height="1.8" fill="#000"/>
<text class="ax" x="50.9" y="578.3" text-anchor="end">1.0</text>
<rect x="60.00" y="555.30" width="4.90" height="1.8" fill="#000"/>
<rect x="58.00" y="535.00" width="6.90" height="1.8" fill="#000"/>
<text class="ax" x="50.9" y="537.5" text-anchor="end">2.0</text>
<rect x="60.00" y="514.70" width="4.90" height="1.8" fill="#000"/>
<rect x="75.90" y="576.70" width="26.00" height="40.70" fill="#bfbfbf" stroke="#000" stroke-width="1.8"/>
<rect x="114.60" y="534.80" width="25.80" height="82.60" fill="#4b4b4b"/>
<rect x="58.00" y="575.80" width="9.80" height="1.8" fill="#000"/>
<rect x="71.20" y="575.80" width="4.80" height="1.8" fill="#000"/>
<rect x="102.00" y="575.80" width="4.50" height="1.8" fill="#000"/>
<rect x="110.60" y="575.80" width="4.10" height="1.8" fill="#000"/>
<rect x="118.40" y="575.80" width="4.20" height="1.8" fill="#000"/>
<rect x="126.00" y="575.80" width="4.20" height="1.8" fill="#000"/>
<rect x="133.60" y="575.80" width="4.10" height="1.8" fill="#000"/>
<rect x="141.60" y="575.80" width="4.10" height="1.8" fill="#000"/>
<path d="M122.7 517.5 H132.5 M122.7 549.4 H132.5 M127.6 517.5 V549.4" stroke="#000" stroke-width="1.7" fill="none"/>
<text x="127.5" y="518.4" class="b" font-size="21.5" text-anchor="middle">**</text>
<text class="lab" transform="translate(17.0 631.6) rotate(-90)">Itga2b (αIIb) (2<tspan dy="-4.8" font-size="12.6">ΔΔCt</tspan><tspan dy="4.8">)</tspan></text>
<text class="it" transform="translate(97.4 636.3) rotate(-45)" text-anchor="end">fl/fl</text>
<text class="it" transform="translate(139.6 628.5) rotate(-45)" text-anchor="end">Pf4Δ/Pf4Δ</text>
<rect x="64.00" y="700.60" width="1.8" height="103.20" fill="#000"/>
<rect x="58.20" y="802.00" width="90.80" height="1.8" fill="#000"/>
<text class="ax" x="50.9" y="804.5" text-anchor="end">0.0</text>
<rect x="60.00" y="782.10" width="4.90" height="1.8" fill="#000"/>
<rect x="58.00" y="761.60" width="6.90" height="1.8" fill="#000"/>
<text class="ax" x="50.9" y="764.1" text-anchor="end">1.0</text>
<rect x="60.00" y="741.50" width="4.90" height="1.8" fill="#000"/>
<rect x="58.00" y="721.10" width="6.90" height="1.8" fill="#000"/>
<text class="ax" x="50.9" y="723.6" text-anchor="end">2.0</text>
<rect x="60.00" y="700.60" width="4.90" height="1.8" fill="#000"/>
<rect x="75.90" y="762.50" width="26.00" height="40.40" fill="#bfbfbf" stroke="#000" stroke-width="1.8"/>
<rect x="114.60" y="745.30" width="25.80" height="57.60" fill="#4b4b4b"/>
<rect x="58.00" y="761.60" width="9.80" height="1.8" fill="#000"/>
<rect x="71.20" y="761.60" width="4.80" height="1.8" fill="#000"/>
<rect x="102.00" y="761.60" width="4.50" height="1.8" fill="#000"/>
<rect x="110.60" y="761.60" width="4.10" height="1.8" fill="#000"/>
<rect x="118.40" y="761.60" width="4.20" height="1.8" fill="#000"/>
<rect x="126.00" y="761.60" width="4.20" height="1.8" fill="#000"/>
<rect x="133.60" y="761.60" width="4.10" height="1.8" fill="#000"/>
<rect x="141.60" y="761.60" width="4.10" height="1.8" fill="#000"/>
<path d="M123.6 734.6 H133.6 M123.6 753.8 H133.6 M128.3 734.6 V753.8" stroke="#000" stroke-width="1.7" fill="none"/>
<text x="127.8" y="728.6" class="b" font-size="15" text-anchor="middle">*</text>
<text class="lab" transform="translate(17.0 802.0) rotate(-90)">Itgb3 (β3) (2<tspan dy="-4.8" font-size="12.6">ΔΔCt</tspan><tspan dy="4.8">)</tspan></text>
<text class="it" transform="translate(97.4 821.3) rotate(-45)" text-anchor="end">fl/fl</text>
<text class="it" transform="translate(139.6 814.0) rotate(-45)" text-anchor="end">Pf4Δ/Pf4Δ</text>
</g>
<g id="panelC">
<text x="189.8" y="479.5" class="b pl">C</text>
<text x="261.2" y="493" class="b ti" text-anchor="middle">Mks</text>
<rect x="246.20" y="515.10" width="1.8" height="104.80" fill="#000"/>
<rect x="242.00" y="618.10" width="90.00" height="1.8" fill="#000"/>
<text class="ax" x="234.5" y="620.8" text-anchor="end">0.0</text>
<rect x="242.00" y="583.90" width="5.10" height="1.8" fill="#000"/>
<text class="ax" x="234.5" y="586.6" text-anchor="end">0.5</text>
<rect x="242.00" y="549.70" width="5.10" height="1.8" fill="#000"/>
<text class="ax" x="234.5" y="552.4" text-anchor="end">1.0</text>
<rect x="242.00" y="515.10" width="5.10" height="1.8" fill="#000"/>
<text class="ax" x="234.5" y="517.8" text-anchor="end">1.5</text>
<rect x="257.00" y="550.60" width="26.30" height="68.40" fill="#bfbfbf" stroke="#000" stroke-width="1.8"/>
<rect x="296.00" y="537.50" width="25.70" height="81.50" fill="#4b4b4b"/>
<rect x="242.00" y="549.70" width="7.80" height="1.8" fill="#000"/>
<rect x="253.60" y="549.70" width="3.90" height="1.8" fill="#000"/>
<rect x="283.00" y="549.70" width="1.30" height="1.8" fill="#000"/>
<rect x="286.00" y="549.70" width="3.00" height="1.8" fill="#000"/>
<rect x="292.30" y="549.70" width="4.00" height="1.8" fill="#000"/>
<rect x="301.00" y="549.70" width="3.90" height="1.8" fill="#000"/>
<rect x="308.40" y="549.70" width="4.10" height="1.8" fill="#000"/>
<rect x="316.20" y="549.70" width="4.00" height="1.8" fill="#000"/>
<rect x="324.00" y="549.70" width="4.00" height="1.8" fill="#000"/>
<path d="M304.4 533.4 H313.6 M304.4 541.3 H313.6 M308.8 533.4 V541.3" stroke="#000" stroke-width="1.7" fill="none"/>
<text x="308.8" y="528.4" class="b" font-size="21.5" text-anchor="middle">**</text>
<text class="lab" transform="translate(204.2 631.6) rotate(-90)">Itga2b (αIIb) (2<tspan dy="-4.8" font-size="12.6">ΔΔCt</tspan><tspan dy="4.8">)</tspan></text>
<text class="it" transform="translate(281.3 636.3) rotate(-45)" text-anchor="end">fl/fl</text>
<text class="it" transform="translate(323.5 628.4) rotate(-45)" text-anchor="end">Pf4Δ/Pf4Δ</text>
<rect x="246.20" y="701.20" width="1.8" height="103.40" fill="#000"/>
<rect x="241.00" y="802.80" width="91.00" height="1.8" fill="#000"/>
<text class="ax" x="232.8" y="805.6" text-anchor="end">0.0</text>
<rect x="241.00" y="768.90" width="6.10" height="1.8" fill="#000"/>
<text class="ax" x="232.8" y="771.7" text-anchor="end">0.5</text>
<rect x="241.00" y="735.20" width="6.10" height="1.8" fill="#000"/>
<text class="ax" x="232.8" y="738.0" text-anchor="end">1.0</text>
<rect x="241.00" y="701.20" width="6.10" height="1.8" fill="#000"/>
<text class="ax" x="232.8" y="704.0" text-anchor="end">1.5</text>
<rect x="257.60" y="736.10" width="26.60" height="67.60" fill="#bfbfbf" stroke="#000" stroke-width="1.8"/>
<rect x="296.90" y="722.80" width="26.00" height="80.90" fill="#4b4b4b"/>
<rect x="241.00" y="735.20" width="8.80" height="1.8" fill="#000"/>
<rect x="253.60" y="735.20" width="4.40" height="1.8" fill="#000"/>
<rect x="284.00" y="735.20" width="4.60" height="1.8" fill="#000"/>
<rect x="292.30" y="735.20" width="4.60" height="1.8" fill="#000"/>
<rect x="299.80" y="735.20" width="4.00" height="1.8" fill="#000"/>
<rect x="307.60" y="735.20" width="4.10" height="1.8" fill="#000"/>
<rect x="315.40" y="735.20" width="4.00" height="1.8" fill="#000"/>
<rect x="323.40" y="735.20" width="4.10" height="1.8" fill="#000"/>
<path d="M304.8 712.7 H314.4 M304.8 731.4 H314.4 M309.6 712.7 V731.4" stroke="#000" stroke-width="1.7" fill="none"/>
<text x="291.6" y="702.8" class="ax" style="stroke-width:0.15px;font-size:13.8px"><tspan font-style="italic">P</tspan> = .09</text>
<text class="lab" transform="translate(204.2 802.0) rotate(-90)">Itgb3 (β3) (2<tspan dy="-4.8" font-size="12.6">ΔΔCt</tspan><tspan dy="4.8">)</tspan></text>
<text class="it" transform="translate(281.3 821.3) rotate(-45)" text-anchor="end">fl/fl</text>
<text class="it" transform="translate(323.2 814.0) rotate(-45)" text-anchor="end">Pf4Δ/Pf4Δ</text>
</g>
<g id="panelD">
<text x="385.8" y="479.5" class="b pl">D</text>
<rect x="435.90" y="496.60" width="1.8" height="119.80" fill="#000"/>
<rect x="431.30" y="496.60" width="5.50" height="1.8" fill="#000"/>
<text class="ax" transform="translate(428.3 502.6) scale(0.93 1)" text-anchor="end">180</text>
<rect x="431.30" y="520.40" width="5.50" height="1.8" fill="#000"/>
<text class="ax" transform="translate(428.3 526.4) scale(0.93 1)" text-anchor="end">160</text>
<rect x="431.30" y="544.10" width="5.50" height="1.8" fill="#000"/>
<text class="ax" transform="translate(428.3 550.1) scale(0.93 1)" text-anchor="end">140</text>
<rect x="431.30" y="567.60" width="5.50" height="1.8" fill="#000"/>
<text class="ax" transform="translate(428.3 573.6) scale(0.93 1)" text-anchor="end">120</text>
<rect x="431.30" y="591.10" width="5.50" height="1.8" fill="#000"/>
<text class="ax" transform="translate(428.3 597.1) scale(0.93 1)" text-anchor="end">100</text>
<rect x="431.30" y="614.60" width="5.50" height="1.8" fill="#000"/>
<text class="ax" transform="translate(428.3 620.6) scale(0.93 1)" text-anchor="end">80</text>
<line x1="454.3" y1="535.0" x2="509.5" y2="499.2" stroke="#808080" stroke-width="2.3"/>
<line x1="454.3" y1="543.1" x2="510.5" y2="558.0" stroke="#808080" stroke-width="2.3"/>
<line x1="454.6" y1="563.5" x2="509.7" y2="521.6" stroke="#808080" stroke-width="2.3"/>
<line x1="456.6" y1="563.6" x2="510.8" y2="537.4" stroke="#808080" stroke-width="2.3"/>
<line x1="454.5" y1="566.6" x2="509.0" y2="544.0" stroke="#808080" stroke-width="2.3"/>
<line x1="454.6" y1="569.7" x2="509.0" y2="548.5" stroke="#808080" stroke-width="2.3"/>
<line x1="456.0" y1="572.3" x2="509.2" y2="552.8" stroke="#808080" stroke-width="2.3"/>
<line x1="455.0" y1="605.0" x2="511.5" y2="570.8" stroke="#808080" stroke-width="2.3"/>
<line x1="455.0" y1="605.0" x2="509.5" y2="586.1" stroke="#808080" stroke-width="2.3"/>
<line x1="454.8" y1="617.3" x2="509.5" y2="586.1" stroke="#808080" stroke-width="2.3"/>
<rect x="445.8" y="573.70" width="19.2" height="1.8" fill="#000"/>
<rect x="500.8" y="549.60" width="19.2" height="1.8" fill="#000"/>
<circle cx="454.3" cy="535.0" r="2.7" fill="#cdcdcd" stroke="#4c4c4c" stroke-width="1.1"/>
<circle cx="454.3" cy="543.1" r="2.7" fill="#cdcdcd" stroke="#4c4c4c" stroke-width="1.1"/>
<circle cx="454.6" cy="563.5" r="2.7" fill="#cdcdcd" stroke="#4c4c4c" stroke-width="1.1"/>
<circle cx="456.6" cy="563.6" r="2.7" fill="#cdcdcd" stroke="#4c4c4c" stroke-width="1.1"/>
<circle cx="454.5" cy="566.6" r="2.7" fill="#cdcdcd" stroke="#4c4c4c" stroke-width="1.1"/>
<circle cx="454.6" cy="569.7" r="2.7" fill="#cdcdcd" stroke="#4c4c4c" stroke-width="1.1"/>
<circle cx="456.0" cy="572.3" r="2.7" fill="#cdcdcd" stroke="#4c4c4c" stroke-width="1.1"/>
<circle cx="455.0" cy="605.0" r="2.7" fill="#cdcdcd" stroke="#4c4c4c" stroke-width="1.1"/>
<circle cx="454.8" cy="617.3" r="2.7" fill="#cdcdcd" stroke="#4c4c4c" stroke-width="1.1"/>
<rect x="507.0" y="496.7" width="5" height="5" fill="#5c5c5c" stroke="#0a0a0a" stroke-width="1.5"/>
<rect x="508.0" y="555.5" width="5" height="5" fill="#5c5c5c" stroke="#0a0a0a" stroke-width="1.5"/>
<rect x="507.2" y="519.1" width="5" height="5" fill="#5c5c5c" stroke="#0a0a0a" stroke-width="1.5"/>
<rect x="508.3" y="534.9" width="5" height="5" fill="#5c5c5c" stroke="#0a0a0a" stroke-width="1.5"/>
<rect x="506.5" y="541.5" width="5" height="5" fill="#5c5c5c" stroke="#0a0a0a" stroke-width="1.5"/>
<rect x="506.5" y="546.0" width="5" height="5" fill="#5c5c5c" stroke="#0a0a0a" stroke-width="1.5"/>
<rect x="506.7" y="550.3" width="5" height="5" fill="#5c5c5c" stroke="#0a0a0a" stroke-width="1.5"/>
<rect x="509.0" y="568.3" width="5" height="5" fill="#5c5c5c" stroke="#0a0a0a" stroke-width="1.5"/>
<rect x="507.0" y="583.6" width="5" height="5" fill="#5c5c5c" stroke="#0a0a0a" stroke-width="1.5"/>
<text x="477" y="506.3" class="b" font-size="21.5" text-anchor="middle">**</text>
<text class="lab" transform="translate(395.4 549.8) rotate(-90)" text-anchor="middle">αIIb MFI</text>
<text class="it" transform="translate(469.5 635.5) rotate(-45)" text-anchor="end">fl/fl</text>
<text class="it" transform="translate(520.5 621.0) rotate(-45)" text-anchor="end">Pf4Δ/Pf4Δ</text>
<rect x="435.30" y="686.30" width="1.8" height="120.10" fill="#000"/>
<rect x="430.70" y="686.30" width="5.50" height="1.8" fill="#000"/>
<text class="ax" style="font-size:16.2px" x="427.4" y="692.9" text-anchor="end">160</text>
<rect x="430.70" y="715.70" width="5.50" height="1.8" fill="#000"/>
<text class="ax" transform="translate(427.2 721.7) scale(0.93 1)" text-anchor="end">140</text>
<rect x="430.70" y="745.40" width="5.50" height="1.8" fill="#000"/>
<text class="ax" transform="translate(427.2 751.4) scale(0.93 1)" text-anchor="end">120</text>
<rect x="430.70" y="774.90" width="5.50" height="1.8" fill="#000"/>
<text class="ax" transform="translate(427.2 780.9) scale(0.93 1)" text-anchor="end">100</text>
<rect x="430.70" y="804.60" width="5.50" height="1.8" fill="#000"/>
<text class="ax" transform="translate(427.2 810.6) scale(0.93 1)" text-anchor="end">80</text>
<line x1="454.6" y1="748.0" x2="509.5" y2="692.0" stroke="#808080" stroke-width="2.3"/>
<line x1="455.4" y1="756.6" x2="509.5" y2="710.0" stroke="#808080" stroke-width="2.3"/>
<line x1="454.3" y1="759.2" x2="508.5" y2="770.0" stroke="#808080" stroke-width="2.3"/>
<line x1="453.8" y1="762.8" x2="509.5" y2="721.8" stroke="#808080" stroke-width="2.3"/>
<line x1="453.0" y1="767.7" x2="509.6" y2="721.9" stroke="#808080" stroke-width="2.3"/>
<line x1="455.0" y1="783.8" x2="508.0" y2="755.0" stroke="#808080" stroke-width="2.3"/>
<line x1="453.8" y1="787.7" x2="508.2" y2="759.7" stroke="#808080" stroke-width="2.3"/>
<line x1="455.0" y1="791.0" x2="510.0" y2="764.3" stroke="#808080" stroke-width="2.3"/>
<line x1="453.8" y1="794.6" x2="508.5" y2="770.0" stroke="#808080" stroke-width="2.3"/>
<line x1="454.6" y1="789.5" x2="508.5" y2="781.5" stroke="#808080" stroke-width="2.3"/>
<rect x="445.0" y="773.70" width="18.8" height="1.8" fill="#000"/>
<rect x="499.7" y="742.50" width="19.1" height="1.8" fill="#000"/>
<circle cx="454.6" cy="748.0" r="2.7" fill="#cdcdcd" stroke="#4c4c4c" stroke-width="1.1"/>
<circle cx="455.4" cy="756.6" r="2.7" fill="#cdcdcd" stroke="#4c4c4c" stroke-width="1.1"/>
<circle cx="454.3" cy="759.2" r="2.7" fill="#cdcdcd" stroke="#4c4c4c" stroke-width="1.1"/>
<circle cx="453.8" cy="762.8" r="2.7" fill="#cdcdcd" stroke="#4c4c4c" stroke-width="1.1"/>
<circle cx="453.0" cy="767.7" r="2.7" fill="#cdcdcd" stroke="#4c4c4c" stroke-width="1.1"/>
<circle cx="455.0" cy="783.8" r="2.7" fill="#cdcdcd" stroke="#4c4c4c" stroke-width="1.1"/>
<circle cx="453.8" cy="787.7" r="2.7" fill="#cdcdcd" stroke="#4c4c4c" stroke-width="1.1"/>
<circle cx="455.0" cy="791.0" r="2.7" fill="#cdcdcd" stroke="#4c4c4c" stroke-width="1.1"/>
<circle cx="453.8" cy="794.6" r="2.7" fill="#cdcdcd" stroke="#4c4c4c" stroke-width="1.1"/>
<circle cx="454.6" cy="789.5" r="2.7" fill="#cdcdcd" stroke="#4c4c4c" stroke-width="1.1"/>
<rect x="507.0" y="689.5" width="5" height="5" fill="#5c5c5c" stroke="#0a0a0a" stroke-width="1.5"/>
<rect x="507.0" y="707.5" width="5" height="5" fill="#5c5c5c" stroke="#0a0a0a" stroke-width="1.5"/>
<rect x="506.0" y="767.5" width="5" height="5" fill="#5c5c5c" stroke="#0a0a0a" stroke-width="1.5"/>
<rect x="507.0" y="719.3" width="5" height="5" fill="#5c5c5c" stroke="#0a0a0a" stroke-width="1.5"/>
<rect x="507.1" y="719.4" width="5" height="5" fill="#5c5c5c" stroke="#0a0a0a" stroke-width="1.5"/>
<rect x="505.5" y="752.5" width="5" height="5" fill="#5c5c5c" stroke="#0a0a0a" stroke-width="1.5"/>
<rect x="505.7" y="757.2" width="5" height="5" fill="#5c5c5c" stroke="#0a0a0a" stroke-width="1.5"/>
<rect x="507.5" y="761.8" width="5" height="5" fill="#5c5c5c" stroke="#0a0a0a" stroke-width="1.5"/>
<rect x="506.0" y="779.0" width="5" height="5" fill="#5c5c5c" stroke="#0a0a0a" stroke-width="1.5"/>
<text x="477" y="708.3" class="b" font-size="21.5" text-anchor="middle">**</text>
<text class="lab" transform="translate(395.4 746.4) rotate(-90)" text-anchor="middle">β3 MFI</text>
<text class="it" transform="translate(469.5 820.2) rotate(-45)" text-anchor="end">fl/fl</text>
<text class="it" transform="translate(516.8 812.4) rotate(-45)" text-anchor="end">Pf4Δ/Pf4Δ</text>
</g>
</svg></body></html>
